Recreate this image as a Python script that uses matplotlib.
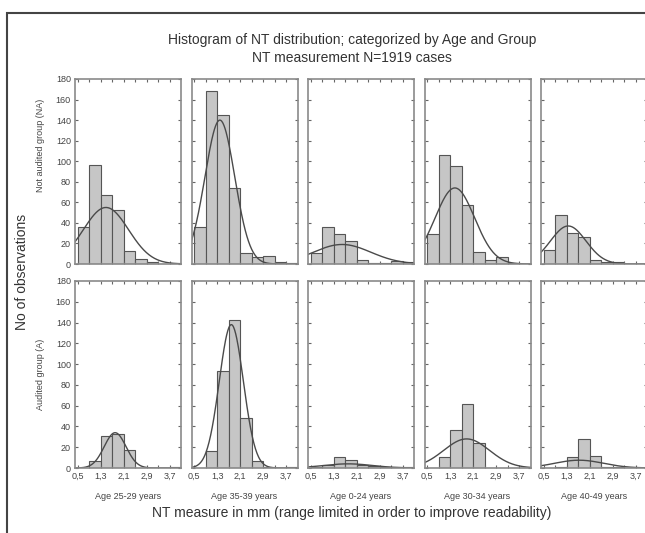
import numpy as np
import matplotlib
matplotlib.use("Agg")
import matplotlib.pyplot as plt
from matplotlib.patches import Rectangle

plt.rcParams['font.family'] = ['Liberation Sans', 'DejaVu Sans']

# bin edges: 0.5 .. 4.1, width 0.4
bin_left = [0.5, 0.9, 1.3, 1.7, 2.1, 2.5, 2.9, 3.3, 3.7]
bin_width = 0.4

ages = ["Age 25-29 years", "Age 35-39 years", "Age 0-24 years",
        "Age 30-34 years", "Age 40-49 years"]
groups = ["Not audited group (NA)", "Audited group (A)"]

# counts per bin
na_counts = [
    [36, 96, 67, 53, 13, 5, 2, 0, 1],
    [36, 168, 145, 74, 11, 7, 8, 2, 1],
    [11, 36, 29, 22, 4, 1, 1, 3, 2],
    [29, 106, 95, 57, 12, 4, 7, 1, 0],
    [14, 48, 30, 26, 4, 2, 2, 0, 0],
]
a_counts = [
    [0, 7, 31, 33, 17, 0, 0, 0, 1],
    [0, 16, 93, 142, 48, 7, 1, 0, 1],
    [1, 3, 11, 8, 3, 2, 1, 1, 1],
    [0, 11, 37, 62, 24, 0, 0, 0, 0],
    [0, 1, 11, 28, 12, 1, 1, 0, 0],
]

# fitted normal curves: mean, sd, peak height (as seen in picture)
na_mean = [1.48, 1.39, 1.59, 1.46, 1.35]
na_sd = [0.79, 0.52, 1.00, 0.69, 0.62]
na_peak = [55, 140, 19, 74, 37]
a_mean = [1.80, 1.79, 1.80, 1.87, 1.73]
a_sd = [0.38, 0.42, 0.85, 0.80, 0.85]
a_peak = [34, 138, 4, 28, 7.5]

W, H = 645, 533
fig = plt.figure(figsize=(W / 100, H / 100), dpi=100)

lefts = [75, 191.5, 308, 424.5, 541]
pw = 106
rows = [(79, 264), (281, 468)]
label_y = [0.64, 0.5]

txt = '#333333'
spine = '#8a8a8a'
xs = np.linspace(0.4, 4.1, 200)

for r, (top, bot) in enumerate(rows):
    counts = na_counts if r == 0 else a_counts
    means = na_mean if r == 0 else a_mean
    sds = na_sd if r == 0 else a_sd
    peaks = na_peak if r == 0 else a_peak
    for c in range(5):
        ax = fig.add_axes([lefts[c] / W, 1 - bot / H, pw / W, (bot - top) / H])
        ax.bar(bin_left, counts[c], width=bin_width, align='edge',
               color='#c6c6c6', edgecolor='#555555', linewidth=0.8)
        curve = peaks[c] * np.exp(-0.5 * ((xs - means[c]) / sds[c]) ** 2)
        ax.plot(xs, curve, color='#4a4a4a', lw=1.0)
        ax.set_xlim(0.4, 4.1)
        ax.set_ylim(0, 180)
        ax.set_xticks([0.5, 1.3, 2.1, 2.9, 3.7])
        ax.set_xticks([0.9, 1.7, 2.5, 3.3], minor=True)
        ax.set_yticks(range(0, 181, 20))
        ax.tick_params(axis='both', which='both', direction='in', length=2.5,
                       width=0.8, color='#666666', top=True, right=True,
                       labelsize=6.5, labelcolor='#444444', pad=3)
        if r == 1:
            ax.set_xticklabels(["0,5", "1,3", "2,1", "2,9", "3,7"])
            ax.set_xlabel(ages[c], fontsize=6.5, color='#444444', labelpad=8)
        else:
            ax.set_xticklabels([])
        if c == 0:
            ax.set_ylabel(groups[r], fontsize=6.5, color='#444444')
            ax.yaxis.set_label_coords(-0.28, label_y[r])
        else:
            ax.set_yticklabels([])
        for s in ax.spines.values():
            s.set_color(spine)
            s.set_linewidth(1.2)

fig.text(352 / W, 1 - 40 / H, "Histogram of NT distribution; categorized by Age and Group",
         ha='center', va='center', fontsize=10, color=txt)
fig.text(352 / W, 1 - 58 / H, "NT measurement N=1919 cases",
         ha='center', va='center', fontsize=10, color=txt)
fig.text(22 / W, 1 - 272 / H, "No of observations", rotation=90,
         ha='center', va='center', fontsize=10, color=txt)
fig.text(352 / W, 1 - 513 / H,
         "NT measure in mm (range limited in order to improve readability)",
         ha='center', va='center', fontsize=10, color=txt)

# outer frame (cut at the right and bottom edges)
fig.patches.append(Rectangle((7 / W, -0.1), 2, 1.1 - 13 / H, transform=fig.transFigure,
                             fill=False, edgecolor='#444444', lw=1.5))

fig.savefig("out.png", dpi=100)
